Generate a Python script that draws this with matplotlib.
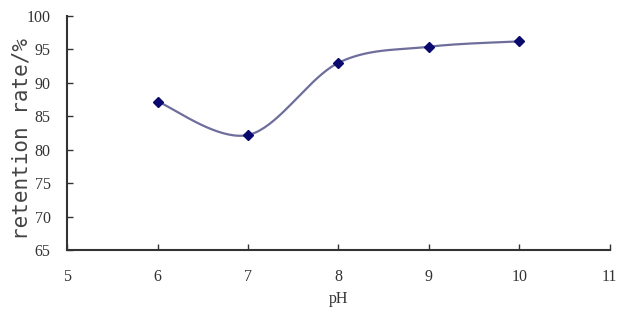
import numpy as np
import matplotlib
matplotlib.use("Agg")
import matplotlib.pyplot as plt

ph = [6, 7, 8, 9, 10]
retention = [87.2, 82.2, 93.0, 95.4, 96.2]
xticks = [5, 6, 7, 8, 9, 10, 11]
yticks = [65, 70, 75, 80, 85, 90, 95, 100]


def excel_smooth(pts, n=40):
    pts = np.asarray(pts, float)
    out = []
    m = len(pts)
    for i in range(m - 1):
        p0 = pts[max(i - 1, 0)]
        p1 = pts[i]
        p2 = pts[i + 1]
        p3 = pts[min(i + 2, m - 1)]
        c1 = p1 + (p2 - p0) / 6.0
        c2 = p2 - (p3 - p1) / 6.0
        t = np.linspace(0, 1, n)[:, None]
        seg = ((1 - t) ** 3) * p1 + 3 * ((1 - t) ** 2) * t * c1 + 3 * (1 - t) * t ** 2 * c2 + t ** 3 * p2
        out.append(seg)
    return np.vstack(out)


fig = plt.figure(figsize=(6.28, 3.2), dpi=100)
ax = fig.add_axes([0.107, 0.219, 0.864, 0.731])
ax.set_xlim(5, 11)
ax.set_ylim(65, 100)

# smooth in display space (like Excel)
disp = ax.transData.transform(np.column_stack([ph, retention]))
curve = excel_smooth(disp)
curve_data = ax.transData.inverted().transform(curve)
ax.plot(curve_data[:, 0], curve_data[:, 1], color="#6e6e9c", lw=1.6, zorder=2)
ax.plot(ph, retention, linestyle="none", marker="D", ms=5, color="#0a0a6e", zorder=3)

ax.set_xticks(xticks)
ax.set_yticks(yticks)
ax.set_xticklabels([str(v) for v in xticks], family="Liberation Serif", fontsize=11.5, color="#333333")
ax.set_yticklabels([str(v) for v in yticks], family="Liberation Serif", fontsize=11.5, color="#333333")
ax.tick_params(direction="in", length=4, width=1, color="#333333", pad=12)
ax.tick_params(axis="x", pad=14)

for s in ["top", "right"]:
    ax.spines[s].set_visible(False)
for s in ["left", "bottom"]:
    ax.spines[s].set_linewidth(1.5)
    ax.spines[s].set_color("#333333")

ax.set_xlabel("pH", family="Liberation Serif", fontsize=11.5, color="#333333", labelpad=4)
ax.set_ylabel("retention rate/%", family="DejaVu Sans Mono", fontsize=15, color="#444444")
ax.yaxis.set_label_coords(-0.066, 0.475)

fig.savefig("out.png", dpi=100)
